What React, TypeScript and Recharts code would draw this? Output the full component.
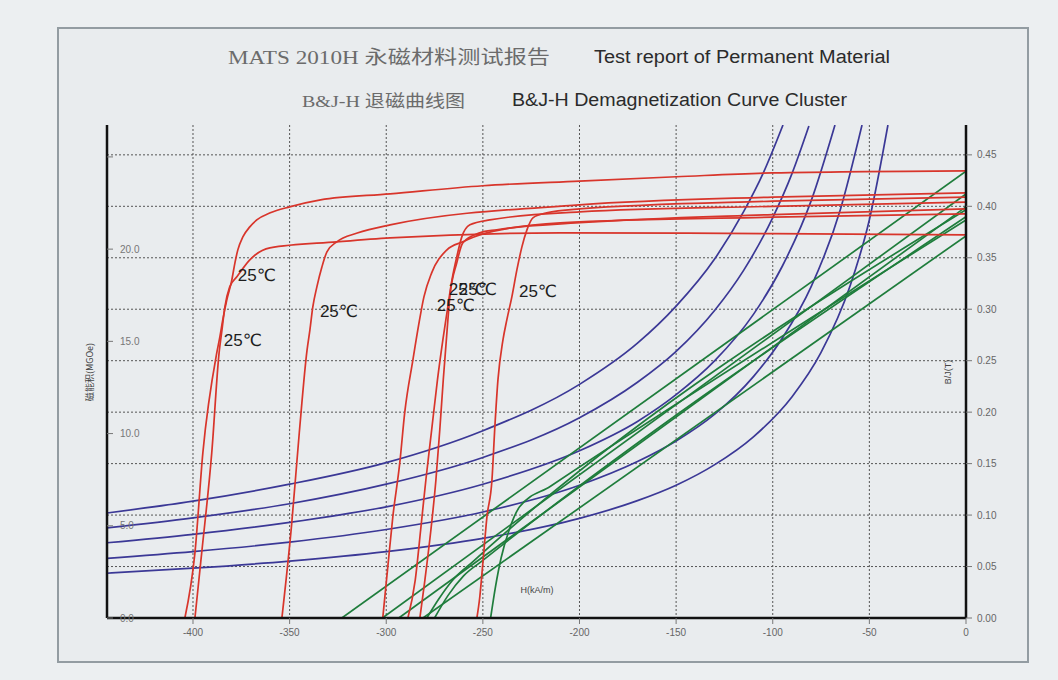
import React from 'react';
import { ComposedChart, Line, XAxis, YAxis, CartesianGrid, ReferenceDot } from 'recharts';

type Pair = [number, number];

// H (kA/m) ticks, B/J (T) ticks, energy product (MGOe) ticks
const H_TICKS = [-400, -350, -300, -250, -200, -150, -100, -50, 0];
const BJ_TICKS = [0, 0.05, 0.1, 0.15, 0.2, 0.25, 0.3, 0.35, 0.4, 0.45];
const E_TICKS = [0, 5, 10, 15, 20, 25];

// J-H intrinsic curves (red), [H, J]
const J1: Pair[] = [[-404.2, 0], [-399, 0.0632], [-394.9, 0.1604], [-387.7, 0.2576], [-386.1, 0.2731], [-384.6, 0.2896], [-382.5, 0.3091], [-379.9, 0.3285], [-378.3, 0.3451], [-376.8, 0.3577], [-374.2, 0.3703], [-370.6, 0.38], [-367, 0.3868], [-360, 0.3937], [-350, 0.3995], [-334, 0.4063], [-298, 0.4121], [-250, 0.42], [-200, 0.4245], [-150, 0.4287], [-100, 0.4325], [0, 0.4345]];
const J2: Pair[] = [[-399, 0], [-395.5, 0.0632], [-390.3, 0.1604], [-386.5, 0.2576], [-385, 0.28], [-383.5, 0.3023], [-381, 0.3217], [-377.3, 0.3315], [-370.6, 0.348], [-360.2, 0.3596], [-325.6, 0.3655], [-298, 0.3694], [-210, 0.3742], [-100, 0.3735], [0, 0.3723]];
const J3: Pair[] = [[-354, 0], [-349, 0.09], [-345, 0.18], [-341, 0.26], [-339.5, 0.28], [-338, 0.3023], [-335.9, 0.3217], [-333.3, 0.341], [-330.7, 0.3558], [-325.6, 0.3655], [-315, 0.374], [-298, 0.382], [-200, 0.4014], [-100, 0.409], [0, 0.4131]];
const J4: Pair[] = [[-301.8, 0], [-299.2, 0.0496], [-296.6, 0.0982], [-293, 0.1507], [-290.4, 0.2002], [-286.2, 0.2508], [-283.2, 0.285], [-280.5, 0.312], [-276.5, 0.3353], [-268.6, 0.3577], [-260.4, 0.3655], [-251.6, 0.3723], [-210, 0.3839], [-100, 0.3895], [0, 0.3927]];
const J5: Pair[] = [[-288.8, 0], [-285, 0.0369], [-282.2, 0.0855], [-279.5, 0.1341], [-276.5, 0.1827], [-273.5, 0.2313], [-270.7, 0.2702], [-268.6, 0.2965], [-266, 0.3285], [-263.5, 0.3509], [-260.9, 0.3703], [-256.7, 0.382], [-246.4, 0.3868], [-200, 0.3946], [-100, 0.4], [0, 0.404]];
const J6: Pair[] = [[-282.6, 0], [-280, 0.0369], [-276.9, 0.0855], [-274.3, 0.1341], [-272.3, 0.1827], [-270.5, 0.2313], [-268.5, 0.28], [-267.1, 0.312], [-263.5, 0.3451], [-260.4, 0.3645], [-251.6, 0.3742], [-242.8, 0.3772], [-199.8, 0.384], [-100, 0.392], [0, 0.3976]];
const J7: Pair[] = [[-253.1, 0], [-251.6, 0.0204], [-250, 0.0535], [-247.9, 0.0982], [-245.3, 0.1341], [-243.8, 0.1857], [-242.2, 0.2313], [-239.6, 0.2702], [-237.6, 0.2897], [-235, 0.312], [-232.4, 0.3382], [-229.8, 0.3606], [-227.2, 0.3771], [-224.1, 0.3888], [-217, 0.3937], [-200, 0.3975], [-100, 0.405], [0, 0.409]];

// B-H normal curves (green), [H, B]
const B1: Pair[] = [[-323, 0], [0, 0.434]];
const B2: Pair[] = [[-302, 0], [0, 0.412]];
const B3: Pair[] = [[-293.5, 0], [0, 0.3995]];
const B4: Pair[] = [[-279, 0], [-273, 0.018], [-266, 0.036], [-255, 0.055], [0, 0.3966]];
const B5: Pair[] = [[-275, 0], [-268, 0.022], [-260, 0.041], [-250, 0.056], [0, 0.3898]];
const B6: Pair[] = [[-246, 0], [-243.5, 0.03], [-240.6, 0.058], [-236.5, 0.085], [-231, 0.108], [-215, 0.128], [0, 0.3868]];
const B7: Pair[] = [[-281, 0], [0, 0.3713]];

// energy product lines (blue), [H, B]
const P1: Pair[] = [[-444.5, 0.102], [-400, 0.1135], [-350, 0.13], [-300, 0.151], [-250, 0.182], [-200, 0.227], [-170, 0.267], [-150, 0.303], [-130, 0.349], [-115, 0.395], [-105, 0.432], [-94.7, 0.479]];
const P2: Pair[] = [[-444.5, 0.0875], [-400, 0.0973], [-350, 0.111], [-300, 0.13], [-250, 0.156], [-200, 0.1945], [-170, 0.229], [-150, 0.259], [-130, 0.299], [-115, 0.338], [-100, 0.389], [-90, 0.432], [-81.3, 0.478]];
const P3: Pair[] = [[-444.5, 0.0731], [-400, 0.0813], [-350, 0.0929], [-300, 0.108], [-250, 0.13], [-200, 0.1625], [-170, 0.191], [-150, 0.217], [-130, 0.25], [-110, 0.295], [-95, 0.342], [-80, 0.406], [-67.8, 0.479]];
const P4: Pair[] = [[-444.5, 0.058], [-400, 0.0645], [-350, 0.0737], [-300, 0.086], [-250, 0.103], [-200, 0.129], [-170, 0.152], [-150, 0.172], [-130, 0.198], [-110, 0.2345], [-95, 0.272], [-80, 0.3225], [-65, 0.397], [-53.8, 0.479]];
const P5: Pair[] = [[-444.5, 0.0435], [-400, 0.0484], [-350, 0.0553], [-300, 0.0645], [-250, 0.0774], [-200, 0.0968], [-170, 0.114], [-150, 0.129], [-130, 0.149], [-110, 0.176], [-90, 0.215], [-75, 0.258], [-60, 0.3225], [-50, 0.387], [-40.4, 0.479]];

// temperature labels, [H, B]
const TEMP_LABELS: Pair[] = [[-367, 0.3333], [-374.2, 0.2702], [-324.5, 0.2985], [-264, 0.3044], [-257.8, 0.3198], [-252.6, 0.3198], [-221.5, 0.3179]];

const RED = '#d8352b';
const GREEN = '#1f7d3c';
const BLUE = '#3b3896';

const toPts = (a: Pair[]) => a.map(([h, b]) => ({ h, b }));

const axisFont = 'Liberation Sans, Arial, sans-serif';

const App: React.FC = () => {
  const curve = (d: Pair[], color: string, key: string) => (
    <Line
      key={key}
      yAxisId="T"
      data={toPts(d)}
      dataKey="b"
      type="monotone"
      stroke={color}
      strokeWidth={1.7}
      dot={false}
      activeDot={false}
      isAnimationActive={false}
    />
  );

  return (
    <div style={{ position: 'absolute', left: 0, top: 0, width: 1058, height: 680, background: '#eceff1', overflow: 'hidden' }}>
      {/* frame */}
      <div style={{ position: 'absolute', left: 57, top: 27, width: 968, height: 632, border: '2px solid #939ca2', background: '#e9ecee' }} />

      <div style={{ position: 'absolute', left: 0, top: 0 }}>
        <ComposedChart width={1058} height={680} margin={{ top: 125, right: 32, bottom: 32, left: 107 }}>
          <CartesianGrid
            yAxisId="T"
            horizontalValues={BJ_TICKS.slice(1)}
            verticalValues={H_TICKS.slice(0, -1)}
            stroke="#555"
            strokeDasharray="2 2"
            strokeWidth={1}
          />
          <XAxis
            type="number"
            dataKey="h"
            domain={[-444.5, 0]}
            allowDataOverflow
            ticks={H_TICKS}
            height={30}
            tickSize={6}
            tickMargin={5}
            tick={{ fill: '#666', fontSize: 10, fontFamily: axisFont }}
            tickLine={{ stroke: '#777' }}
            axisLine={{ stroke: '#111', strokeWidth: 2.5 }}
          />
          <YAxis
            yAxisId="E"
            orientation="left"
            mirror
            type="number"
            domain={[0, 26.73]}
            allowDataOverflow
            ticks={E_TICKS}
            tickFormatter={(v: number) => (v === 25 ? '' : v.toFixed(1))}
            tickSize={6}
            tickMargin={7}
            tick={{ fill: '#777', fontSize: 10, fontFamily: axisFont }}
            tickLine={{ stroke: '#777' }}
            axisLine={{ stroke: '#111', strokeWidth: 2.5 }}
          />
          <YAxis
            yAxisId="T"
            orientation="right"
            type="number"
            domain={[0, 0.479]}
            allowDataOverflow
            ticks={BJ_TICKS}
            width={60}
            tickFormatter={(v: number) => v.toFixed(2)}
            tickSize={6}
            tickMargin={5}
            tick={{ fill: '#666', fontSize: 10, fontFamily: axisFont, textAnchor: 'start' }}
            tickLine={{ stroke: '#777' }}
            axisLine={{ stroke: '#111', strokeWidth: 2.5 }}
          />

          {[P1, P2, P3, P4, P5].map((d, i) => curve(d, BLUE, 'p' + i))}
          {[B1, B2, B3, B4, B5, B6, B7].map((d, i) => curve(d, GREEN, 'g' + i))}
          {[J1, J2, J3, J4, J5, J6, J7].map((d, i) => curve(d, RED, 'r' + i))}

          {TEMP_LABELS.map(([h, b], i) => (
            <ReferenceDot
              key={'t' + i}
              yAxisId="T"
              x={h}
              y={b}
              r={1}
              fill="none"
              stroke="none"
              label={{ value: '25℃', position: 'center', fill: '#1d1d1d', fontSize: 17, fontFamily: 'Liberation Sans, DejaVu Sans, sans-serif' }}
            />
          ))}
        </ComposedChart>
      </div>

      {/* titles and axis names */}
      <svg width={1058} height={680} style={{ position: 'absolute', left: 0, top: 0, pointerEvents: 'none' }}>
        <text x={228} y={64} fontSize={19} fill="#6b6b6b" fontFamily="Liberation Serif, Noto Sans CJK SC, serif" textLength={322} lengthAdjust="spacingAndGlyphs">
          MATS 2010H 永磁材料测试报告
        </text>
        <text x={594} y={63} fontSize={18} fill="#2b2b2b" fontFamily="Liberation Sans Narrow, Liberation Sans, Arial, sans-serif" textLength={296} lengthAdjust="spacingAndGlyphs">
          Test report of Permanent Material
        </text>
        <text x={302} y={107} fontSize={17} fill="#6b6b6b" fontFamily="Liberation Serif, Noto Sans CJK SC, serif" textLength={163} lengthAdjust="spacingAndGlyphs">
          B&amp;J-H 退磁曲线图
        </text>
        <text x={512} y={106} fontSize={18} fill="#2b2b2b" fontFamily="Liberation Sans Narrow, Liberation Sans, Arial, sans-serif" textLength={335} lengthAdjust="spacingAndGlyphs">
          B&amp;J-H Demagnetization Curve Cluster
        </text>

        <text x={537} y={593} fontSize={9} fill="#444" textAnchor="middle" fontFamily={axisFont}>
          H(kA/m)
        </text>
        <text transform="translate(951,372) rotate(-90)" fontSize={9} fill="#444" textAnchor="middle" fontFamily={axisFont}>
          B/J(T)
        </text>
        <text transform="translate(93,372) rotate(-90)" fontSize={9} fill="#444" textAnchor="middle" fontFamily="Noto Sans CJK SC, sans-serif">
          磁能积(MGOe)
        </text>
      </svg>
    </div>
  );
};

export default App;
